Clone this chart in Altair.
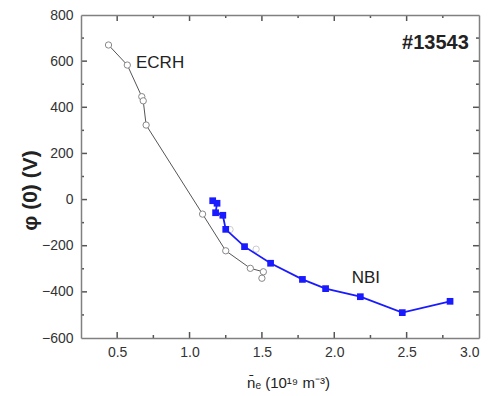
import altair as alt
import pandas as pd

# ---- data ----
ecrh_x = [0.44, 0.57, 0.67, 0.68, 0.70, 1.09, 1.25, 1.42, 1.51, 1.50]
ecrh_y = [670, 583, 446, 428, 323, -63, -222, -298, -313, -341]
faint_x = [1.28, 1.46]
faint_y = [-130, -215]
nbi_x = [1.16, 1.19, 1.18, 1.23, 1.25, 1.38, 1.56, 1.78, 1.94, 2.18, 2.47, 2.80]
nbi_y = [-5, -16, -57, -68, -129, -204, -276, -346, -386, -421, -490, -441]

x_ticks = [0.25, 0.5, 0.75, 1.0, 1.25, 1.5, 1.75, 2.0, 2.25, 2.5, 2.75, 3.0]
y_ticks = [-600, -500, -400, -300, -200, -100, 0, 100, 200, 300, 400, 500, 600, 700, 800]
x_major = [0.5, 1.0, 1.5, 2.0, 2.5]
x_minor = [0.75, 1.25, 1.75, 2.25, 2.75]
y_major = [-400, -200, 0, 200, 400, 600]
y_minor = [-500, -300, -100, 100, 300, 500, 700]

labels = ["ECRH", "NBI", "#13543"]
label_x = [0.63, 2.12, 2.93]
label_y = [592, -340, 679]

W, H = 398, 323
FONT = "Liberation Sans"
TS = 4
TC = "#555555"
TW = 1.5
MAJ, MIN = 6, 3
DOM = dict(domain=True, domainColor="#808080", domainWidth=1.5, zindex=2,
           grid=False, tickSize=TS, tickOpacity=0, ticks=True)

ecrh = pd.DataFrame({"x": ecrh_x, "y": ecrh_y, "i": range(len(ecrh_x))})
faint = pd.DataFrame({"x": faint_x, "y": faint_y})
nbi = pd.DataFrame({"x": nbi_x, "y": nbi_y, "i": range(len(nbi_x))})

xs = alt.Scale(domain=[0.25, 3.0], nice=False, zero=False)
ys = alt.Scale(domain=[-600, 800], nice=False, zero=False)

x_label_axis = alt.Axis(
    orient="top", offset=-H, values=x_ticks, **DOM,
    labelExpr="datum.value % 0.5 == 0 ? format(datum.value, '.1f') : ''",
    labelFont=FONT, labelFontSize=14, labelColor="#333",
    labelPadding=-(TS + 21),
    title="n̄ₑ (10¹⁹ m⁻³)", titleFont=FONT, titleFontSize=15,
    titleFontWeight="normal", titleColor="#222",
    titleX=207, titleY=44, titleBaseline="middle", titleAlign="center")
y_label_axis = alt.Axis(
    orient="right", offset=-W, values=y_ticks, **DOM,
    labelExpr="datum.value % 200 == 0 ? format(datum.value, 'd') : ''",
    labelFont=FONT, labelFontSize=14, labelColor="#333", labelAlign="right",
    labelPadding=-(TS + 8),
    title="φ (0) (V)", titleFont=FONT, titleFontSize=21,
    titleFontWeight="bold", titleColor="#222", titleAngle=270,
    titleX=-51, titleY=175, titleBaseline="middle", titleAlign="center")
x_top_axis = alt.Axis(orient="bottom", offset=-H, values=x_ticks, **DOM,
                      labels=False, title=None)
y_right_axis = alt.Axis(orient="left", offset=-W, values=y_ticks, **DOM,
                        labels=False, title=None)


def xrule(vals, y0, y1):
    return alt.Chart(pd.DataFrame({"v": vals})).mark_rule(
        color=TC, strokeWidth=TW, opacity=1).encode(
        x=alt.X("v:Q", scale=xs, axis=None),
        y=alt.value(y0), y2=alt.value(y1))


def yrule(vals, x0, x1):
    return alt.Chart(pd.DataFrame({"v": vals})).mark_rule(
        color=TC, strokeWidth=TW, opacity=1).encode(
        y=alt.Y("v:Q", scale=ys, axis=None),
        x=alt.value(x0), x2=alt.value(x1))


tick_layers = [
    xrule(x_major, H - MAJ, H), xrule(x_minor, H - MIN, H),
    xrule(x_major, 0, MAJ), xrule(x_minor, 0, MIN),
    yrule(y_major, 0, MAJ), yrule(y_minor, 0, MIN),
    yrule(y_major, W - MAJ, W), yrule(y_minor, W - MIN, W),
]

ecrh_line = alt.Chart(ecrh).mark_line(color="#555", strokeWidth=1).encode(
    x=alt.X("x:Q", scale=xs, axis=x_label_axis),
    y=alt.Y("y:Q", scale=ys, axis=y_label_axis),
    order="i:Q")

ecrh_pts = alt.Chart(ecrh).mark_point(
    shape="circle", filled=True, fill="white", stroke="#888",
    strokeWidth=1, size=40, opacity=1).encode(
    x=alt.X("x:Q", scale=xs, axis=x_top_axis),
    y=alt.Y("y:Q", scale=ys, axis=y_right_axis))

faint_pts = alt.Chart(faint).mark_point(
    shape="circle", filled=True, fill="white", stroke="#ccc",
    strokeWidth=1, size=40, opacity=1).encode(
    x=alt.X("x:Q", scale=xs, axis=None),
    y=alt.Y("y:Q", scale=ys, axis=None))

nbi_line = alt.Chart(nbi).mark_line(color="#1a1aff", strokeWidth=1.8).encode(
    x=alt.X("x:Q", scale=xs, axis=None),
    y=alt.Y("y:Q", scale=ys, axis=None),
    order="i:Q")

nbi_pts = alt.Chart(nbi).mark_point(
    shape="square", filled=True, color="#1a1aff", size=45, opacity=1).encode(
    x=alt.X("x:Q", scale=xs, axis=None),
    y=alt.Y("y:Q", scale=ys, axis=None))

lab = pd.DataFrame({"t": labels, "x": label_x, "y": label_y})
t1 = alt.Chart(lab[lab.t != "#13543"]).mark_text(
    font=FONT, fontSize=17, color="#222", align="left", baseline="middle").encode(
    x=alt.X("x:Q", scale=xs, axis=None), y=alt.Y("y:Q", scale=ys, axis=None), text="t:N")
t2 = alt.Chart(lab[lab.t == "#13543"]).mark_text(
    font=FONT, fontSize=20, fontWeight="bold", color="#222", align="right",
    baseline="middle").encode(
    x=alt.X("x:Q", scale=xs, axis=None), y=alt.Y("y:Q", scale=ys, axis=None), text="t:N")

chart = alt.layer(ecrh_line, ecrh_pts, faint_pts, nbi_line, nbi_pts, t1, t2,
                  *tick_layers).resolve_axis(
    x="independent", y="independent").properties(
    width=W, height=H,
    autosize=alt.AutoSizeParams(type="none"),
    padding={"left": 81, "top": 15, "right": 13, "bottom": 58},
    background="white").configure_view(stroke="transparent")

chart.save("out.html", embed_options={"renderer": "svg", "actions": False})
